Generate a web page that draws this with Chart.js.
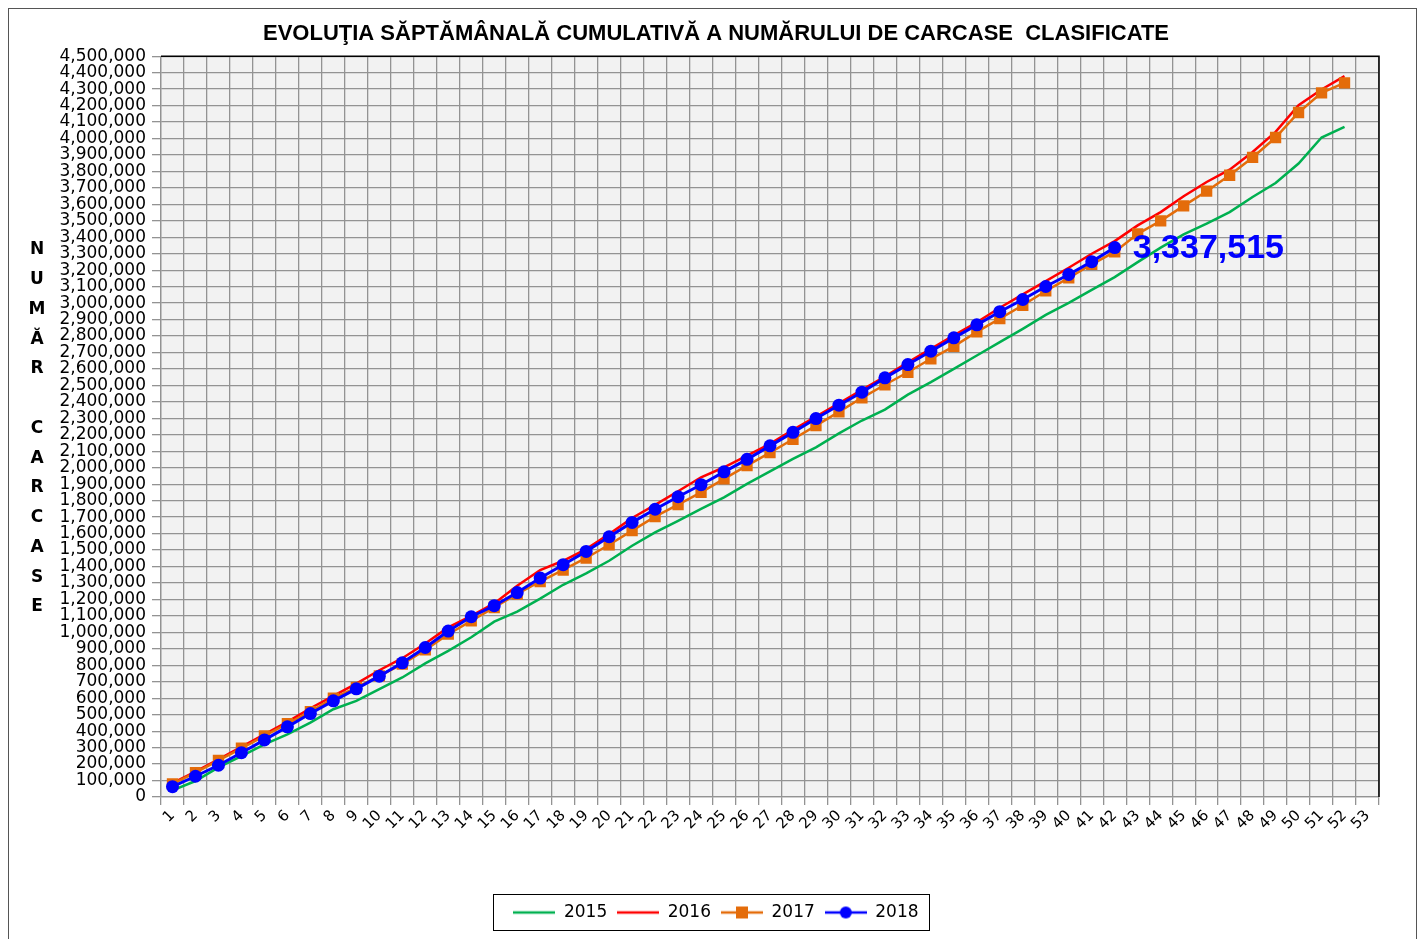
<!DOCTYPE html>
<html>
<head>
<meta charset="utf-8">
<title>Evoluţia carcase clasificate</title>
<script src="https://cdn.jsdelivr.net/npm/chart.js@4.4.1/dist/chart.umd.min.js"></script>
<style>
  html, body { margin: 0; padding: 0; background: #fff; }
  #wrap { width: 1424px; height: 939px; }
</style>
</head>
<body>
<div id="wrap"><canvas id="carcaseChart" width="1424" height="939"></canvas></div>
<script>
const weeks = ['1','2','3','4','5','6','7','8','9','10','11','12','13','14','15','16','17','18','19','20',
    '21','22','23','24','25','26','27','28','29','30','31','32','33','34','35','36','37','38','39','40',
    '41','42','43','44','45','46','47','48','49','50','51','52','53'];

const years = ['2015', '2016', '2017', '2018'];

const values2015 = [40000, 97000, 180000, 249000, 320000, 381000, 452000, 533000, 584000, 655000,
    726000, 812000, 888000, 970000, 1065000, 1126000, 1205000, 1289000, 1358000, 1435000,
    1526000, 1607000, 1678000, 1750000, 1820000, 1902000, 1978000, 2054000, 2124000, 2209000,
    2287000, 2353000, 2444000, 2520000, 2601000, 2682000, 2763000, 2844000, 2929000, 3002000,
    3081000, 3158000, 3249000, 3337000, 3418000, 3483000, 3553000, 3645000, 3730000, 3848000,
    4006000, 4070000];

const values2016 = [85000, 154000, 229000, 304000, 381000, 456000, 539000, 614000, 689000, 770000,
    843000, 932000, 1030000, 1101000, 1176000, 1283000, 1379000, 1435000, 1506000, 1597000,
    1695000, 1775000, 1857000, 1942000, 2003000, 2074000, 2145000, 2230000, 2311000, 2392000,
    2473000, 2554000, 2641000, 2722000, 2805000, 2884000, 2972000, 3053000, 3134000, 3215000,
    3300000, 3377000, 3472000, 3553000, 3649000, 3736000, 3811000, 3918000, 4040000, 4202000,
    4298000, 4379000];

const values2017 = [80000, 148000, 223000, 296000, 371000, 446000, 519000, 600000, 665000, 736000,
    807000, 894000, 989000, 1070000, 1151000, 1233000, 1309000, 1379000, 1452000, 1532000,
    1618000, 1703000, 1776000, 1851000, 1932000, 2013000, 2092000, 2173000, 2256000, 2339000,
    2425000, 2504000, 2580000, 2662000, 2737000, 2825000, 2906000, 2987000, 3074000, 3153000,
    3236000, 3311000, 3421000, 3500000, 3591000, 3680000, 3777000, 3885000, 4006000, 4158000,
    4277000, 4338000];

const values2018 = [63000, 126000, 193000, 269000, 347000, 426000, 507000, 584000, 657000, 734000,
    815000, 908000, 1008000, 1095000, 1162000, 1242000, 1330000, 1411000, 1492000, 1581000,
    1668000, 1748000, 1824000, 1897000, 1975000, 2051000, 2133000, 2215000, 2299000, 2380000,
    2459000, 2546000, 2627000, 2708000, 2789000, 2868000, 2948000, 3022000, 3101000, 3174000,
    3252000, 3337515];

const yMin = 0;
const yMax = 4500000;
const yStep = 100000;

const chartTitle = 'EVOLUŢIA SĂPTĂMÂNALĂ CUMULATIVĂ A NUMĂRULUI DE CARCASE  CLASIFICATE';
const yTitleLetters = ['N', 'U', 'M', 'Ă', 'R', '', 'C', 'A', 'R', 'C', 'A', 'S', 'E'];

const colors = ['#00b050', '#ff0000', '#e46c0a', '#0000ff'];
const gridColor = '#939393';
const numberFont = 'DejaVu Sans';

// small canvas used as legend symbol: line, optionally with its marker
function legendIcon(color, marker) {
    const c = document.createElement('canvas');
    c.width = 42;
    c.height = 16;
    const g = c.getContext('2d');
    g.strokeStyle = color;
    g.lineWidth = 2.5;
    g.beginPath();
    g.moveTo(0, 8);
    g.lineTo(42, 8);
    g.stroke();
    g.fillStyle = color;
    if (marker === 'rect') {
        g.fillRect(15, 2, 12, 12);
    } else if (marker === 'circle') {
        g.beginPath();
        g.arc(21, 8, 6, 0, Math.PI * 2);
        g.fill();
    }
    return c;
}

const backgroundPlugin = {
    id: 'backgroundPlugin',
    beforeDraw(chart) {
        const {ctx, chartArea: a} = chart;
        ctx.save();
        ctx.fillStyle = '#ffffff';
        ctx.fillRect(0, 0, chart.width, chart.height);
        ctx.strokeStyle = '#555555';
        ctx.lineWidth = 1;
        ctx.strokeRect(8.5, 8.5, 1408, 960);
        ctx.fillStyle = '#f2f2f2';
        ctx.fillRect(a.left, a.top, a.right - a.left, a.bottom - a.top);
        ctx.restore();
    },
    beforeDatasetsDraw(chart) {
        const {ctx, chartArea: a} = chart;
        ctx.save();
        ctx.strokeStyle = '#000000';
        ctx.lineWidth = 1.5;
        ctx.beginPath();
        ctx.moveTo(a.left, a.top);
        ctx.lineTo(a.right, a.top);
        ctx.lineTo(a.right, a.bottom);
        ctx.stroke();
        ctx.restore();
    }
};

const extrasPlugin = {
    id: 'extrasPlugin',
    afterDatasetsDraw(chart) {
        // label of the last 2018 value
        const ctx = chart.ctx;
        const meta = chart.getDatasetMeta(3);
        const last = meta.data[meta.data.length - 1];
        const value = values2018[values2018.length - 1];
        ctx.save();
        ctx.font = 'bold 34px "Liberation Sans", Arial, sans-serif';
        ctx.fillStyle = '#0000ff';
        ctx.textAlign = 'left';
        ctx.textBaseline = 'middle';
        ctx.fillText(value.toLocaleString('en-US'), last.x + 18, last.y + 1);
        ctx.restore();
    },
    afterDraw(chart) {
        const ctx = chart.ctx;
        ctx.save();
        // vertical stacked axis title
        ctx.font = 'bold 17px "DejaVu Sans", sans-serif';
        ctx.fillStyle = '#000';
        ctx.textAlign = 'center';
        ctx.textBaseline = 'middle';
        yTitleLetters.forEach((ch, i) => {
            ctx.fillText(ch, 37, 250 + i * 29.75);
        });
        // frame round the legend
        const legend = chart.legend;
        const boxes = legend.legendHitBoxes;
        const first = boxes[0];
        const lastBox = boxes[boxes.length - 1];
        const left = first.left - 20;
        const right = lastBox.left + lastBox.width + 11;
        ctx.strokeStyle = '#000';
        ctx.lineWidth = 1;
        ctx.strokeRect(Math.round(left) + 0.5, Math.round(legend.top) + 0.5,
            Math.round(right - left), Math.round(legend.height) - 1);
        ctx.restore();
    }
};

document.addEventListener('DOMContentLoaded', () => {
    const ctx = document.getElementById('carcaseChart').getContext('2d');

    const icons = [
        legendIcon(colors[0]),
        legendIcon(colors[1]),
        legendIcon(colors[2], 'rect'),
        legendIcon(colors[3], 'circle')
    ];

    const data = {
        labels: weeks,
        datasets: [{
            label: years[0],
            data: values2015,
            borderColor: colors[0],
            backgroundColor: colors[0],
            borderWidth: 2.5,
            pointRadius: 0,
            order: 4
        }, {
            label: years[1],
            data: values2016,
            borderColor: colors[1],
            backgroundColor: colors[1],
            borderWidth: 2.5,
            pointRadius: 0,
            order: 3
        }, {
            label: years[2],
            data: values2017,
            borderColor: colors[2],
            backgroundColor: colors[2],
            borderWidth: 2.5,
            pointStyle: 'rect',
            pointRadius: 8,
            pointBorderWidth: 0,
            order: 2
        }, {
            label: years[3],
            data: values2018,
            borderColor: colors[3],
            backgroundColor: colors[3],
            borderWidth: 3,
            pointStyle: 'circle',
            pointRadius: 6.5,
            pointBorderWidth: 0,
            order: 1
        }]
    };

    const carcaseChart = new Chart(ctx, {
        type: 'line',
        data: data,
        plugins: [backgroundPlugin, extrasPlugin],
        options: {
            responsive: false,
            animation: false,
            events: [],
            devicePixelRatio: 1,
            layout: {
                padding: {left: 53, right: 45, top: 0, bottom: 8}
            },
            scales: {
                x: {
                    offset: true,
                    grid: {
                        offset: true,
                        color: gridColor,
                        lineWidth: 1.3,
                        tickLength: 8
                    },
                    border: {color: gridColor, width: 1.3},
                    ticks: {
                        autoSkip: false,
                        minRotation: 45,
                        maxRotation: 45,
                        color: '#000',
                        padding: 2,
                        font: {family: numberFont, size: 15}
                    },
                    afterFit: (scale) => { scale.height = 97; }
                },
                y: {
                    min: yMin,
                    max: yMax,
                    grid: {
                        color: gridColor,
                        lineWidth: 1.3,
                        tickLength: 9
                    },
                    border: {color: gridColor, width: 1.3},
                    ticks: {
                        stepSize: yStep,
                        autoSkip: false,
                        color: '#000',
                        padding: 6,
                        font: {family: numberFont, size: 17, lineHeight: 1},
                        callback: (value) => value.toLocaleString('en-US')
                    },
                    afterFit: (scale) => { scale.width = 108; }
                }
            },
            plugins: {
                title: {
                    display: true,
                    text: chartTitle,
                    color: '#000',
                    font: {family: 'Liberation Sans', size: 22, weight: 'bold', lineHeight: 1.1},
                    padding: {top: 22, bottom: 10}
                },
                legend: {
                    display: true,
                    position: 'bottom',
                    labels: {
                        usePointStyle: true,
                        pointStyleWidth: 42,
                        padding: 10,
                        color: '#000',
                        font: {family: numberFont, size: 17},
                        generateLabels: (chart) => chart.data.datasets.map((ds, i) => ({
                            text: ds.label,
                            pointStyle: icons[i],
                            fillStyle: ds.borderColor,
                            strokeStyle: ds.borderColor,
                            lineWidth: 0,
                            fontColor: '#000',
                            hidden: false,
                            datasetIndex: i
                        }))
                    }
                },
                tooltip: {enabled: false}
            }
        }
    });
});
</script>
</body>
</html>
